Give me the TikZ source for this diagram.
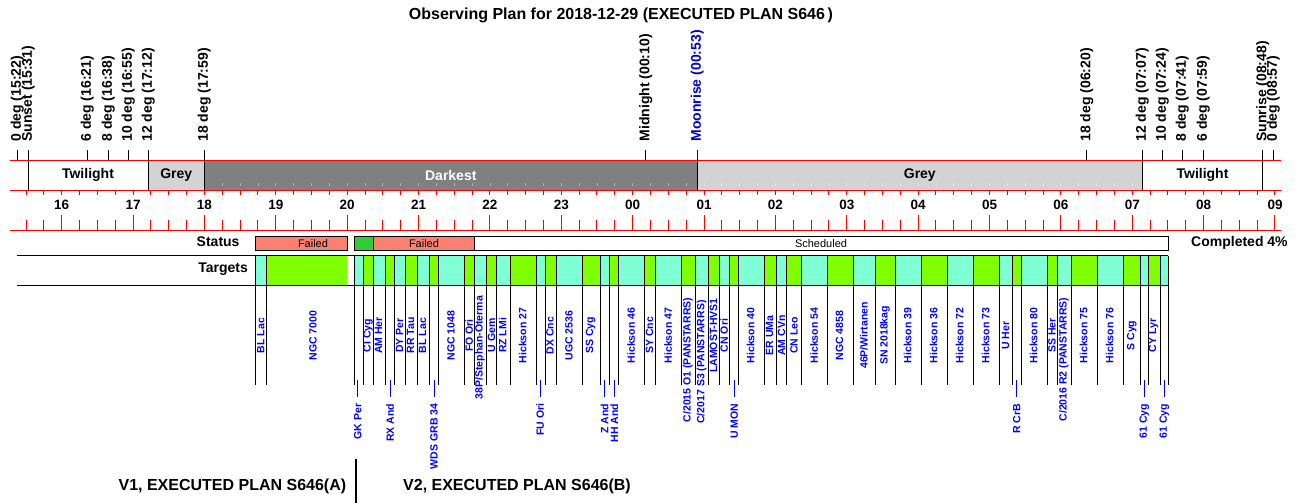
\documentclass[tikz,border=0pt]{standalone}
\usepackage{fontspec}
\setmainfont{Liberation Sans}
\definecolor{cyanblk}{HTML}{7FFFD4}
\definecolor{grnblk}{HTML}{7FFF00}
\definecolor{failc}{HTML}{FA8072}
\definecolor{okc}{HTML}{32CD32}
\definecolor{lgrey}{HTML}{D3D3D3}
\definecolor{dgrey}{HTML}{808080}
\definecolor{tblue}{HTML}{0000FF}
\definecolor{mblue}{HTML}{0000CD}
\newcommand\ev[4][black]{\node[evlbl,text=#1] (#2) at (#3,142) {#4};
  \draw[#1] (#2.west) ++(0,8) -- ++(0,10);}
\newcommand\blk[3]{\fill[#3] (#1,255.7) rectangle (#2,285.3); \draw (#1,255.7) -- (#1,385);}
\newcommand\tu[4][335.5]{\node[tup] (#2) at (#3,#1) {#4};}
\newcommand\td[3]{\node[tdn] (#1) at (#2,403.3) {#3};
  \draw[tblue] (#1.east) ++(0,-6.3) -- ++(0,-17);}
\begin{document}
\begin{tikzpicture}[x=1pt,y=-1pt,line width=1pt,
  evlbl/.style={rotate=90,anchor=west,inner sep=0pt,font=\fontsize{14}{14}\selectfont\bfseries},
  bandlbl/.style={inner sep=0pt,font=\fontsize{14}{14}\selectfont\bfseries},
  hourlbl/.style={inner sep=0pt,font=\fontsize{13.5}{13.5}\selectfont\bfseries},
  rowlbl/.style={anchor=east,inner sep=0pt,font=\fontsize{14}{14}\selectfont\bfseries},
  statbox/.style={draw=black,line width=1pt},
  statlbl/.style={inner sep=0pt,font=\fontsize{11}{11}\selectfont},
  tup/.style={rotate=90,inner sep=0pt,text=tblue,font=\fontsize{10.5}{10.5}\selectfont\bfseries},
  tdn/.style={rotate=90,anchor=east,inner sep=0pt,text=tblue,font=\fontsize{10.5}{10.5}\selectfont\bfseries},
  bigtxt/.style={inner sep=0pt,font=\fontsize{16}{16}\selectfont\bfseries}]
\useasboundingbox[fill=white] (0,0) rectangle (1300,503);

% title
\node[bigtxt] (title) at (621,15) {Observing Plan for 2018-12-29 (EXECUTED PLAN S646\,)};

% sky band
\fill[lgrey] (148.3,160) rectangle (204.3,190);
\fill[dgrey] (204.3,160) rectangle (697.3,190);
\fill[lgrey] (697.3,160) rectangle (1142.3,190);
\foreach \i in {10,...,62}{
  \pgfmathsetmacro\xx{26+\i*17.8425}
  \draw[white,opacity=0.35,line width=0.8pt] (\xx,183) -- (\xx,186);
}
\foreach \xx in {28.3,148.3,204.3,697.3,1142.3,1262.7}
  \draw (\xx,160) -- (\xx,190);
\draw[red] (10,160) -- (1281,160);
\draw[red] (10,190) -- (1281,190);
\draw[red] (10,230) -- (1281,230);

\node[bandlbl] (tw1) at (88,175) {Twilight};
\node[bandlbl] (gr1) at (176.3,175) {Grey};
\node[bandlbl,text=white] (dk) at (450.8,175) {Darkest};
\node[bandlbl] (gr2) at (919.8,175) {Grey};
\node[bandlbl] (tw2) at (1202.5,175) {Twilight};

% events
\ev{e0a}{17.3}{0 deg (15:22)}
\ev{eSunset}{28.3}{Sunset (15:31)}
\ev{e6a}{87.3}{6 deg (16:21)}
\ev{e8a}{108.3}{8 deg (16:38)}
\ev{e10a}{128.3}{10 deg (16:55)}
\ev{e12a}{148.3}{12 deg (17:12)}
\ev{e18a}{204.3}{18 deg (17:59)}
\ev{eMid}{645.7}{Midnight (00:10)}
\ev[mblue]{eMoon}{697.3}{Moonrise (00:53)}
\ev{e18b}{1086.7}{18 deg (06:20)}
\ev{e12b}{1142.3}{12 deg (07:07)}
\ev{e10b}{1162.3}{10 deg (07:24)}
\ev{e8b}{1182.3}{8 deg (07:41)}
\ev{e6b}{1203.3}{6 deg (07:59)}
\ev{eSunrise}{1262.7}{Sunrise (08:48)}
\ev{e0b}{1273.3}{0 deg (08:57)}

% time axis
\foreach \i in {0,...,70}{
  \pgfmathsetmacro\xx{26+\i*17.8425}
  \draw[red] (\xx,190) -- (\xx,195);
  \pgfmathtruncatemacro\m{mod(\i+2,4)}
  \ifnum\m=0 \draw[red] (\xx,215) -- (\xx,230); \else \draw[red] (\xx,220) -- (\xx,230); \fi
}
\foreach \h/\lab in {0/16,1/17,2/18,3/19,4/20,5/21,6/22,7/23,8/00,9/01,10/02,11/03,12/04,13/05,14/06,15/07,16/08,17/09}
  \node[hourlbl] (h\lab) at ({61.7+\h*71.37},204.5) {\lab};

% status row
\node[rowlbl] (status) at (240,241.5) {Status};
\draw[statbox,fill=failc] (255.3,236) rectangle (347,250.3);
\draw[statbox,fill=okc] (354.3,236) rectangle (373.3,250.3);
\draw[statbox,fill=failc] (373.3,236) rectangle (474.3,250.3);
\draw[statbox,fill=white] (474.3,236) rectangle (1168.3,250.3);
\node[statlbl] (f1) at (313,243.5) {Failed};
\node[statlbl] (f2) at (424,243.5) {Failed};
\node[statlbl] (sch) at (821,243.5) {Scheduled};
\node[rowlbl,anchor=west] (compl) at (1190.7,242.7) {Completed 4\%};

% targets row
\node[rowlbl] (targets) at (248.3,269) {Targets};
\blk{255.5}{266.3}{cyanblk}
\blk{266.3}{347}{grnblk}
\blk{354.3}{363.3}{cyanblk}
\blk{363.3}{373.3}{grnblk}
\blk{373.3}{385.5}{cyanblk}
\blk{385.5}{394.5}{grnblk}
\blk{394.5}{405.7}{cyanblk}
\blk{405.7}{417.5}{grnblk}
\blk{417.5}{429.3}{cyanblk}
\blk{429.3}{438.3}{grnblk}
\blk{438.3}{464.8}{cyanblk}
\blk{464.8}{474.3}{grnblk}
\blk{474.3}{486.7}{cyanblk}
\blk{486.7}{496.7}{grnblk}
\blk{496.7}{510.5}{cyanblk}
\blk{510.5}{536.3}{grnblk}
\blk{536.3}{545.8}{cyanblk}
\blk{545.8}{556.3}{grnblk}
\blk{556.3}{582.7}{cyanblk}
\blk{582.7}{600.3}{grnblk}
\blk{600.3}{609.7}{cyanblk}
\blk{609.7}{618.7}{grnblk}
\blk{618.7}{644.7}{cyanblk}
\blk{644.7}{655.7}{grnblk}
\blk{655.7}{681.7}{cyanblk}
\blk{681.7}{695.7}{grnblk}
\blk{695.7}{708.7}{cyanblk}
\blk{708.7}{719.3}{grnblk}
\blk{719.3}{729.7}{cyanblk}
\blk{729.7}{738.3}{grnblk}
\blk{738.3}{764.3}{cyanblk}
\blk{764.3}{776.7}{grnblk}
\blk{776.7}{786.7}{cyanblk}
\blk{786.7}{801.7}{grnblk}
\blk{801.7}{827.3}{cyanblk}
\blk{827.3}{853.3}{grnblk}
\blk{853.3}{875.3}{cyanblk}
\blk{875.3}{895.5}{grnblk}
\blk{895.5}{921.5}{cyanblk}
\blk{921.5}{947.5}{grnblk}
\blk{947.5}{973.5}{cyanblk}
\blk{973.5}{999.3}{grnblk}
\blk{999.3}{1012.5}{cyanblk}
\blk{1012.5}{1021.2}{grnblk}
\blk{1021.2}{1047.5}{cyanblk}
\blk{1047.5}{1057.5}{grnblk}
\blk{1057.5}{1071.7}{cyanblk}
\blk{1071.7}{1097.3}{grnblk}
\blk{1097.3}{1123.3}{cyanblk}
\blk{1123.3}{1140.3}{grnblk}
\blk{1140.3}{1148.3}{cyanblk}
\blk{1148.3}{1160.3}{grnblk}
\blk{1160.3}{1168.3}{cyanblk}
\draw (1168.3,255.7) -- (1168.3,385);
\draw (17.3,255.7) -- (1168.3,255.7);
\draw (17.3,285.3) -- (1168.3,285.3);

% target labels
\tu{tBLLacA}{260.9}{BL Lac}
\tu{tNGC7000}{313}{NGC 7000}
\td{tGKPer}{357.7}{GK Per}
\tu{tCICyg}{368}{CI Cyg}
\tu{tAMHer}{378.5}{AM Her}
\td{tRXAnd}{390}{RX And}
\tu{tDYPer}{399.5}{DY Per}
\tu{tRRTau}{410.5}{RR Tau}
\tu{tBLLacB}{422.5}{BL Lac}
\td{tWDS}{434}{WDS GRB 34}
\tu{tNGC1048}{451}{NGC 1048}
\tu{tFOOri}{469}{FO Ori}
\tu[347.7]{tStephan}{480}{38P/Stephan-Oterma}
\tu{tUGem}{491.5}{U Gem}
\tu{tRZLMi}{502.5}{RZ LMi}
\tu{tH27}{522.5}{Hickson 27}
\td{tFUOri}{540}{FU Ori}
\tu{tDXCnc}{550}{DX Cnc}
\tu{tUGC}{569}{UGC 2536}
\tu{tSSCyg}{590.5}{SS Cyg}
\td{tZAnd}{604.5}{Z And}
\td{tHHAnd}{614.3}{HH And}
\tu{tH46}{631}{Hickson 46}
\tu{tSYCnc}{649.5}{SY Cnc}
\tu{tH47}{668}{Hickson 47}
\tu[360]{tC2015}{688}{C/2015 O1 (PANSTARRS)}
\tu[362]{tC2017}{701.7}{C/2017 S3 (PANSTARRS)}
\tu{tLAMOST}{713.5}{LAMOST-HVS1}
\tu{tCNOri}{724}{CN Ori}
\td{tUMON}{734.3}{U MON}
\tu{tH40}{750.5}{Hickson 40}
\tu{tERUMa}{769.5}{ER UMa}
\tu{tAMCVn}{781.5}{AM CVn}
\tu{tCNLeo}{794}{CN Leo}
\tu{tH54}{814}{Hickson 54}
\tu{tNGC4858}{839.5}{NGC 4858}
\tu{tWirtanen}{864}{46P/Wirtanen}
\tu{tSN}{885}{SN 2018kag}
\tu{tH39}{907.5}{Hickson 39}
\tu{tH36}{933.5}{Hickson 36}
\tu{tH72}{959.5}{Hickson 72}
\tu{tH73}{985.5}{Hickson 73}
\tu{tUHer}{1005.5}{U Her}
\td{tRCrB}{1016.7}{R CrB}
\tu{tH80}{1033.5}{Hickson 80}
\tu{tSSHer}{1052}{SS Her}
\tu[359.5]{tC2016}{1064}{C/2016 R2 (PANSTARRS)}
\tu{tH75}{1083.5}{Hickson 75}
\tu{tH76}{1109.5}{Hickson 76}
\tu{tSCyg}{1131.7}{S Cyg}
\td{t61CygA}{1144.3}{61 Cyg}
\tu{tCYLyr}{1153.5}{CY Lyr}
\td{t61CygB}{1164.3}{61 Cyg}

% bottom captions
\node[bigtxt,anchor=east] (v1) at (346.7,486) {V1, EXECUTED PLAN S646(A)};
\node[bigtxt,anchor=west] (v2) at (402.7,486) {V2, EXECUTED PLAN S646(B)};
\coordinate (sepTop) at (355.5,459);
\coordinate (sepBot) at (355.5,503);
\draw[line width=2pt] (sepTop) -- (sepBot);
\end{tikzpicture}
\end{document}
